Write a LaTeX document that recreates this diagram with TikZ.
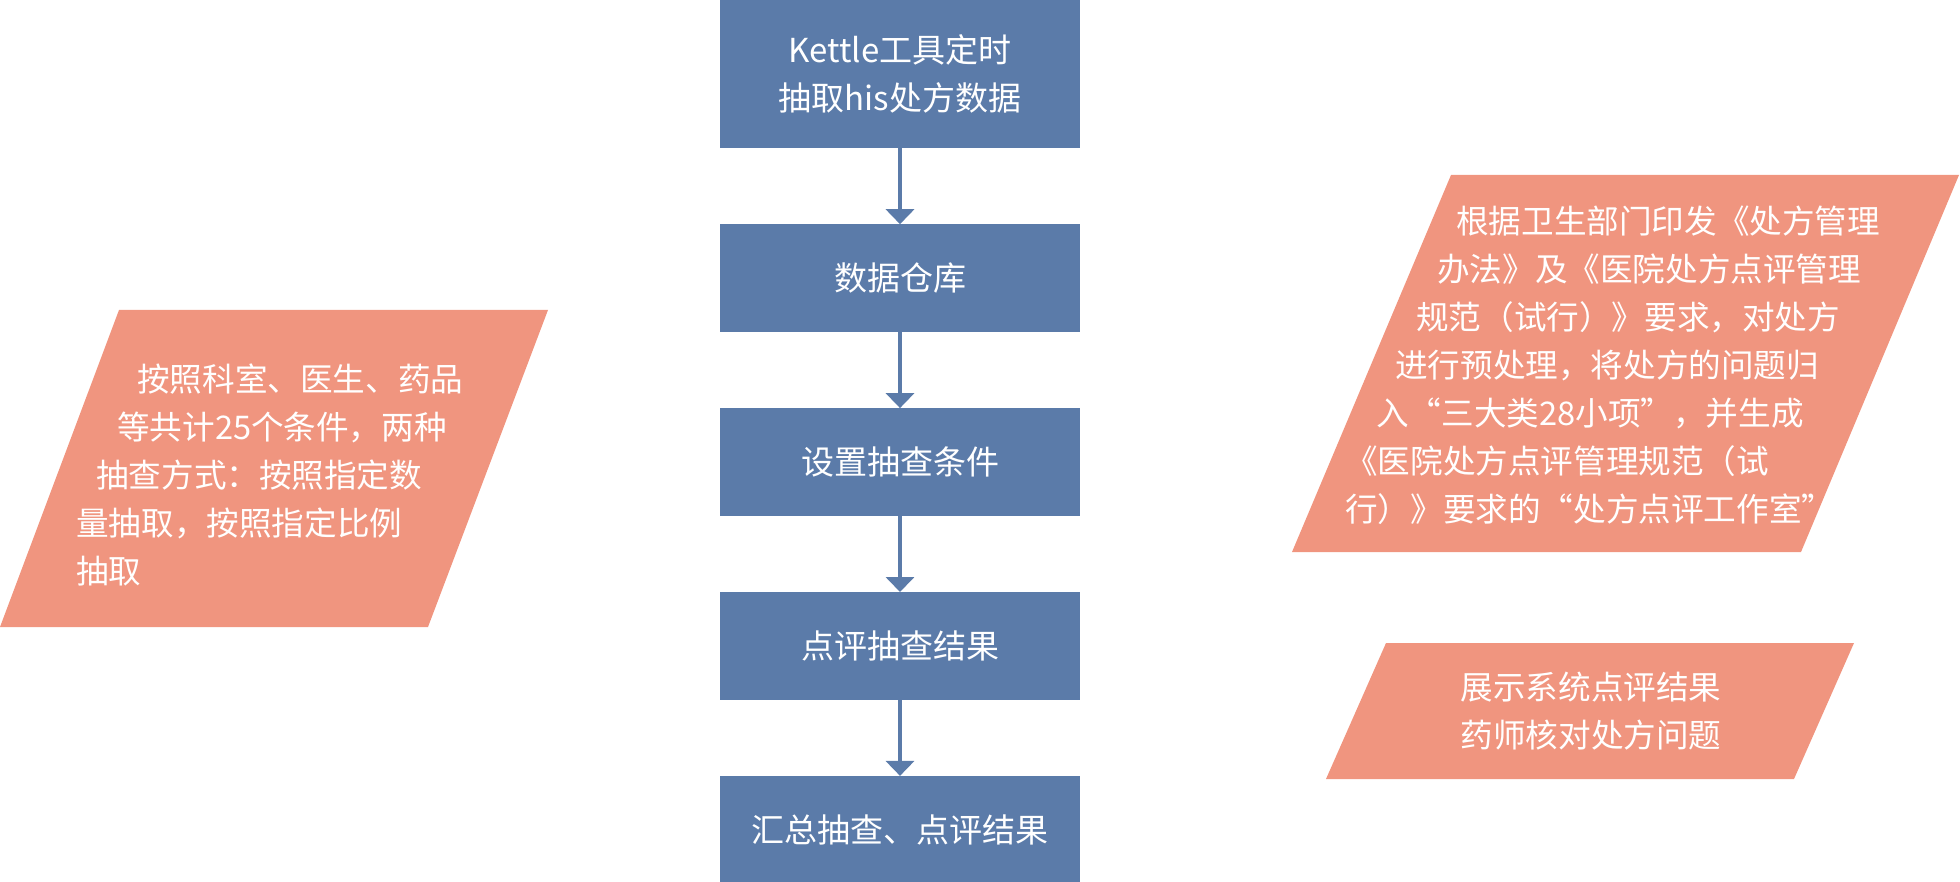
\documentclass[tikz,border=0pt]{standalone}
\usepackage{fontspec}
\setmainfont{Noto Sans CJK SC}
\usetikzlibrary{arrows.meta,positioning}
\definecolor{stepblue}{RGB}{91,123,169}
\definecolor{notesalmon}{RGB}{240,149,127}
\begin{document}
\begin{tikzpicture}[x=1pt,y=-1pt,
    stepbox/.style={rectangle,fill=stepblue,text=white,inner sep=0pt,
        minimum width=360pt,minimum height=107.5pt,align=center,
        font=\fontsize{33}{47.5}\selectfont},
    flowarrow/.style={draw=stepblue,line width=4pt,
        -{Triangle[width=28pt,length=15pt,fill=stepblue]}},
    notetext/.style={text=white,inner sep=0pt,font=\fontsize{32.6}{48}\selectfont}]
    \useasboundingbox (0,0) rectangle (1960,882);
    \node [stepbox,minimum height=148pt] (extract) at (900,74) {Kettle工具定时\\抽取his处方数据};
    \node [stepbox,below=76pt of extract] (warehouse) {数据仓库};
    \node [stepbox,below=76pt of warehouse] (setcond) {设置抽查条件};
    \node [stepbox,below=76pt of setcond] (review) {点评抽查结果};
    \node [stepbox,below=76pt of review] (summary) {汇总抽查、点评结果};
    \draw [flowarrow] (extract) -- (warehouse);
    \draw [flowarrow] (warehouse) -- (setcond);
    \draw [flowarrow] (setcond) -- (review);
    \draw [flowarrow] (review) -- (summary);
    \fill [notesalmon] (119,310) -- (548,310) -- (428,627) -- (0,627) -- cycle;
    \node [notetext,anchor=west,align=left] (condnote) at (76,474.5)
        {\hspace*{61pt}按照科室、医生、药品\\
         \hspace*{41pt}等共计25个条件，两种\\
         \hspace*{20pt}抽查方式：按照指定数\\
         量抽取，按照指定比例\\
         抽取};
    \fill [notesalmon] (1451,175) -- (1959,175) -- (1801,552) -- (1292,552) -- cycle;
    \node [notetext,anchor=west,align=left] (rulenote) at (1345,365)
        {\hspace*{111pt}根据卫生部门印发《处方管理\\
         \hspace*{92pt}办法》及《医院处方点评管理\\
         \hspace*{71pt}规范（试行）》要求，对处方\\
         \hspace*{50pt}进行预处理，将处方的问题归\\
         \hspace*{31pt}入“三大类28小项”，并生成\\
         《医院处方点评管理规范（试\\
         行）》要求的“处方点评工作室”};
    \fill [notesalmon] (1386,643) -- (1854,643) -- (1794,779) -- (1326,779) -- cycle;
    \node [notetext,align=center] (shownote) at (1591,711.5)
        {展示系统点评结果\\药师核对处方问题};
\end{tikzpicture}
\end{document}
